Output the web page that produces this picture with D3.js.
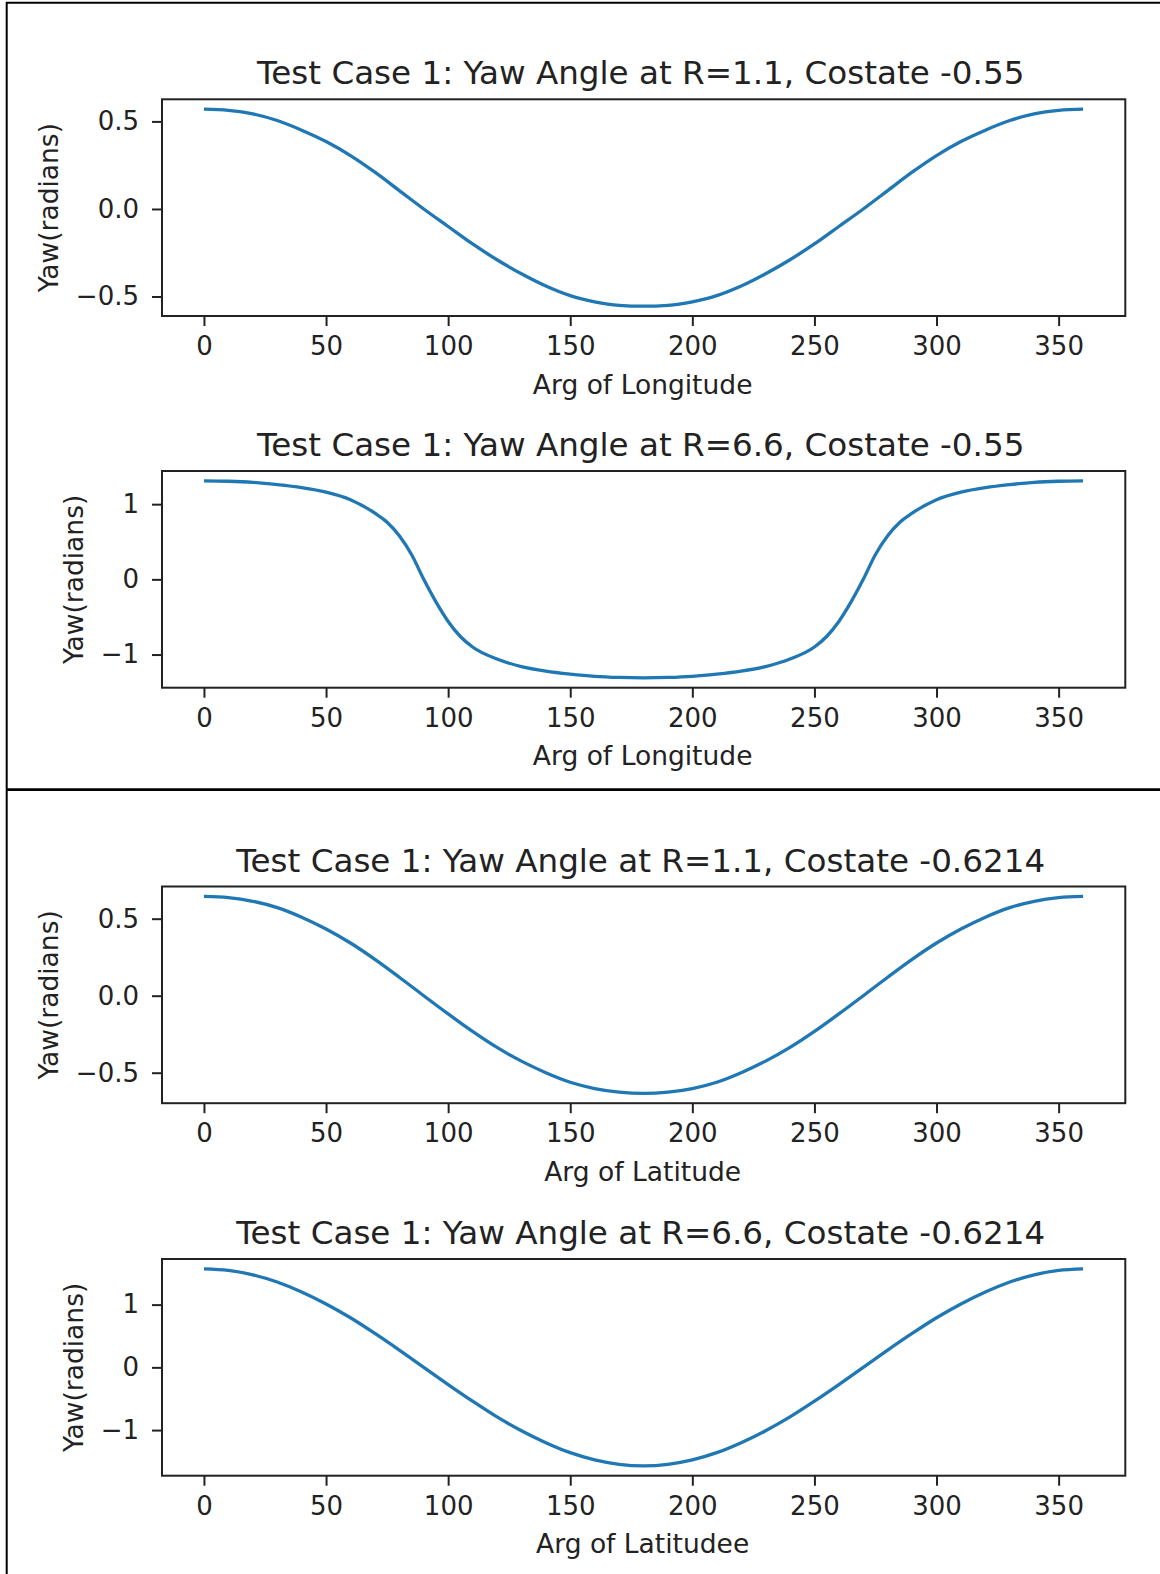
<!DOCTYPE html>
<html>
<head>
<meta charset="utf-8">
<script src="https://cdn.jsdelivr.net/npm/d3@7"></script>
<style>
  body { margin: 0; background: #fff; }
  text { font-family: "DejaVu Sans", sans-serif; fill: #222; }
</style>
</head>
<body>
<svg id="chart"></svg>
<script>
// angles in degrees
const argDeg = [0, 10, 20, 30, 40, 50, 60, 70, 80, 90, 100, 110, 120, 130, 140, 150, 160, 170, 180,
  190, 200, 210, 220, 230, 240, 250, 260, 270, 280, 290, 300, 310, 320, 330, 340, 350, 360];
const argDegFine = [0, 10, 20, 30, 40, 50, 60, 70, 75, 80, 85, 90, 95, 100, 105, 110, 120, 130, 140, 150, 160, 170, 180,
  190, 200, 210, 220, 230, 240, 250, 255, 260, 265, 270, 275, 280, 285, 290, 300, 310, 320, 330, 340, 350, 360];

// yaw (radians)
const yawR11Lon = [0.57, 0.563, 0.543, 0.505, 0.45, 0.385, 0.305, 0.21, 0.105, 0.0, -0.10, -0.20, -0.29, -0.37, -0.44, -0.495, -0.53, -0.55, -0.555,
  -0.55, -0.53, -0.495, -0.44, -0.37, -0.29, -0.20, -0.10, 0.0, 0.105, 0.21, 0.305, 0.385, 0.45, 0.505, 0.543, 0.563, 0.57];
const yawR66Lon = [1.31, 1.305, 1.29, 1.26, 1.22, 1.16, 1.06, 0.88, 0.76, 0.58, 0.33, 0.0, -0.30, -0.56, -0.76, -0.90, -1.06, -1.16, -1.22, -1.26, -1.29, -1.305, -1.31,
  -1.305, -1.29, -1.26, -1.22, -1.16, -1.06, -0.90, -0.76, -0.56, -0.30, 0.0, 0.33, 0.58, 0.76, 0.88, 1.06, 1.16, 1.22, 1.26, 1.29, 1.305, 1.31];
const yawR11Lat = [0.645, 0.637, 0.613, 0.572, 0.51, 0.433, 0.342, 0.236, 0.12, 0.0, -0.118, -0.232, -0.336, -0.425, -0.50, -0.562, -0.603, -0.626, -0.634,
  -0.626, -0.603, -0.562, -0.50, -0.425, -0.336, -0.232, -0.118, 0.0, 0.12, 0.236, 0.342, 0.433, 0.51, 0.572, 0.613, 0.637, 0.645];
const yawR66Lat = [1.57, 1.545, 1.475, 1.36, 1.2, 1.01, 0.79, 0.54, 0.275, 0.0, -0.275, -0.54, -0.79, -1.01, -1.2, -1.36, -1.475, -1.545, -1.57,
  -1.545, -1.475, -1.36, -1.2, -1.01, -0.79, -0.54, -0.275, 0.0, 0.275, 0.54, 0.79, 1.01, 1.2, 1.36, 1.475, 1.545, 1.57];

const xTicks = [0, 50, 100, 150, 200, 250, 300, 350];
const yTicksSmall = [-0.5, 0, 0.5];
const yTickLabelsSmall = ["\u22120.5", "0.0", "0.5"];
const yTicksLarge = [-1, 0, 1];
const yTickLabelsLarge = ["\u22121", "0", "1"];

const titles = [
  "Test Case 1: Yaw Angle at R=1.1, Costate -0.55",
  "Test Case 1: Yaw Angle at R=6.6, Costate -0.55",
  "Test Case 1: Yaw Angle at R=1.1, Costate -0.6214",
  "Test Case 1: Yaw Angle at R=6.6, Costate -0.6214"
];
const xLabels = ["Arg of Longitude", "Arg of Longitude", "Arg of Latitude", "Arg of Latitudee"];

function getConfig() {
    let width = 1160;
    let height = 1574;
    let svg = d3.select("#chart")
        .attr("width", width)
        .attr("height", height);
    return {width, height, svg};
}

function drawFrame(svg) {
    // outer box from the screenshot
    svg.append("line").attr("x1", 6).attr("x2", 1160).attr("y1", 2.7).attr("y2", 2.7)
        .attr("stroke", "#000").attr("stroke-width", 2);
    svg.append("line").attr("x1", 6.7).attr("x2", 6.7).attr("y1", 2).attr("y2", 1574)
        .attr("stroke", "#000").attr("stroke-width", 2);
    svg.append("line").attr("x1", 6).attr("x2", 1160).attr("y1", 789.7).attr("y2", 789.7)
        .attr("stroke", "#000").attr("stroke-width", 2.7);
}

function drawPanel(svg, p) {
    const left = 162, right = 1125.3, h = 216.7;
    const top = p.top, bottom = p.top + h;

    const x = d3.scaleLinear().domain([-18, 378]).range([160, 1127]);
    const [lo, hi] = d3.extent(p.ys);
    const pad = (hi - lo) * 0.05;
    const y = d3.scaleLinear().domain([lo - pad, hi + pad]).range([bottom, top]);

    const g = svg.append("g");

    g.append("g")
        .attr("transform", `translate(0,${bottom})`)
        .call(d3.axisBottom(x).tickValues(xTicks).tickSize(10).tickSizeOuter(0).tickPadding(10.5))
        .call(a => a.select(".domain").remove())
        .call(a => a.selectAll("line").attr("stroke", "#222").attr("stroke-width", 2))
        .call(a => a.selectAll("text").attr("font-size", 26).attr("fill", "#222"));

    g.append("g")
        .attr("transform", `translate(${left},0)`)
        .call(d3.axisLeft(y).tickValues(p.yTicks).tickFormat((d, i) => p.yTickLabels[i])
            .tickSize(10).tickSizeOuter(0).tickPadding(13))
        .call(a => a.select(".domain").remove())
        .call(a => a.selectAll("line").attr("stroke", "#222").attr("stroke-width", 2))
        .call(a => a.selectAll("text").attr("font-size", 26).attr("fill", "#222"));

    const line = d3.line()
        .x((d, i) => x(p.xs[i]))
        .y(d => y(d))
        .curve(d3.curveMonotoneX);

    g.append("path")
        .datum(p.ys)
        .attr("d", line)
        .attr("fill", "none")
        .attr("stroke", "#1f77b4")
        .attr("stroke-width", 3.3)
        .attr("stroke-linejoin", "round");

    g.append("rect")
        .attr("x", left).attr("y", top)
        .attr("width", right - left).attr("height", h)
        .attr("fill", "none")
        .attr("stroke", "#222")
        .attr("stroke-width", 2);

    const cx = (left + right) / 2;
    g.append("text")
        .attr("x", cx - 3).attr("y", top - 15)
        .attr("text-anchor", "middle")
        .attr("font-size", 32.6)
        .text(p.title);

    g.append("text")
        .attr("x", cx - 1).attr("y", bottom + 77.5)
        .attr("text-anchor", "middle")
        .attr("font-size", 26.5)
        .text(p.xLabel);

    g.append("text")
        .attr("transform", `translate(${p.labelX},${(top + bottom) / 2}) rotate(-90)`)
        .attr("text-anchor", "middle")
        .attr("font-size", 26.5)
        .text("Yaw(radians)");
}

function drawChart() {
    const config = getConfig();
    const svg = config.svg;
    svg.append("rect").attr("width", config.width).attr("height", config.height).attr("fill", "#fff");
    drawFrame(svg);

    const panels = [
        {top: 99.3, xs: argDeg, ys: yawR11Lon, yTicks: yTicksSmall, yTickLabels: yTickLabelsSmall, labelX: 58.3},
        {top: 471, xs: argDegFine, ys: yawR66Lon, yTicks: yTicksLarge, yTickLabels: yTickLabelsLarge, labelX: 83.3},
        {top: 886.5, xs: argDeg, ys: yawR11Lat, yTicks: yTicksSmall, yTickLabels: yTickLabelsSmall, labelX: 58.3},
        {top: 1259, xs: argDeg, ys: yawR66Lat, yTicks: yTicksLarge, yTickLabels: yTickLabelsLarge, labelX: 82.7}
    ];
    panels.forEach((p, i) => {
        p.title = titles[i];
        p.xLabel = xLabels[i];
        drawPanel(svg, p);
    });
}

drawChart();
</script>
</body>
</html>
